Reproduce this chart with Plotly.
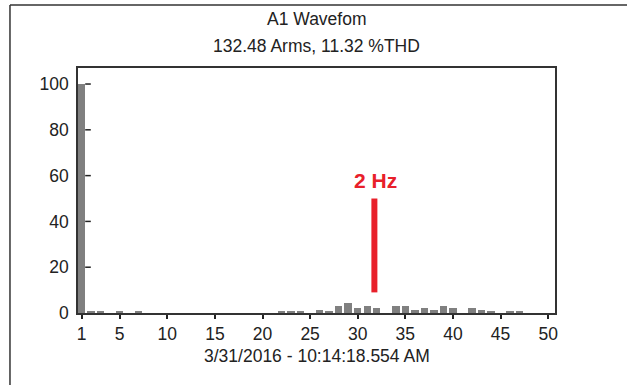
import plotly.graph_objects as go

harmonics = list(range(1, 51))
magnitudes = [100, 0.6, 0.6, 0, 0.6, 0, 0.6, 0, 0, 0,
              0, 0, 0, 0, 0, 0, 0, 0, 0, 0,
              0, 0.6, 0.6, 0.6, 0, 1.3, 0.7, 2.9, 4.4, 2.2,
              2.9, 2.2, 0, 2.9, 2.9, 1.5, 2.2, 1.5, 2.9, 2.2,
              0, 2.2, 1.5, 0.7, 0, 0.6, 0.6, 0, 0, 0]
x_ticks = [1, 5, 10, 15, 20, 25, 30, 35, 40, 45, 50]
y_ticks = [0, 20, 40, 60, 80, 100]
marker_x = 31.75
marker_y = [9, 50]
marker_label = "2 Hz"
title_line1 = "A1 Wavefom"
title_line2 = "132.48 Arms, 11.32 %THD"
x_title = "3/31/2016 - 10:14:18.554 AM"

FONT = "Liberation Sans, Arial"
TXT = "#222222"
FS = 17.5

fig = go.Figure()
fig.add_trace(go.Bar(x=harmonics, y=magnitudes, width=0.78,
                     marker=dict(color="#808080", line=dict(width=0)),
                     showlegend=False, hoverinfo="skip"))
# little y tick dashes inside the plot
fig.add_trace(go.Scatter(x=[1.67] * len(y_ticks[1:]), y=y_ticks[1:], mode="markers",
                         marker=dict(symbol="line-ew-open", size=4, color="#222222",
                                     line=dict(width=1.5, color="#222222")),
                         showlegend=False, hoverinfo="skip"))
# red marker line
fig.add_trace(go.Scatter(x=[marker_x, marker_x], y=marker_y, mode="lines",
                         line=dict(color="#e8202a", width=6),
                         showlegend=False, hoverinfo="skip"))
fig.add_annotation(x=marker_x + 0.1, y=58, text="<b>" + marker_label + "</b>",
                   showarrow=False, font=dict(family=FONT, size=21, color="#e8202a"))

# titles
fig.add_annotation(xref="paper", yref="paper", x=0.5, y=1.2, yanchor="middle",
                   text=title_line1, showarrow=False, font=dict(family=FONT, size=FS, color=TXT))
fig.add_annotation(xref="paper", yref="paper", x=0.5, y=1.09, yanchor="middle",
                   text=title_line2, showarrow=False, font=dict(family=FONT, size=FS, color=TXT))
fig.add_annotation(xref="paper", yref="paper", x=0.5, y=-0.176, yanchor="middle",
                   text=x_title, showarrow=False, font=dict(family=FONT, size=FS, color=TXT))

fig.update_layout(
    width=627, height=385,
    margin=dict(l=78, r=72, t=68, b=72),
    paper_bgcolor="white", plot_bgcolor="white",
    font=dict(family=FONT, size=FS, color=TXT),
    bargap=0,
    shapes=[
        dict(type="line", xref="paper", yref="paper", x0=-0.1426, x1=1.2, y0=1.257, y1=1.257,
             line=dict(color="#333333", width=1.5)),
        dict(type="line", xref="paper", yref="paper", x0=-0.1426, x1=-0.1426, y0=1.257, y1=-0.3,
             line=dict(color="#333333", width=1.5)),
    ],
)
fig.update_xaxes(range=[0.62, 50.72], tickvals=x_ticks, ticks="outside", ticklen=4,
                 tickwidth=1.5, tickcolor="#222222", showline=True, linecolor="#333333",
                 linewidth=1.5, mirror=True, showgrid=False, zeroline=False,
                 ticklabelstandoff=0)
fig.update_yaxes(range=[0, 107], tickvals=y_ticks, ticks="", showline=True,
                 linecolor="#333333", linewidth=1.5, mirror=True, showgrid=False,
                 zeroline=False, ticklabelstandoff=4)

fig.write_html("out.html", config={"displayModeBar": False},
               post_script="document.body.style.margin='0';document.body.style.overflow='hidden';")
